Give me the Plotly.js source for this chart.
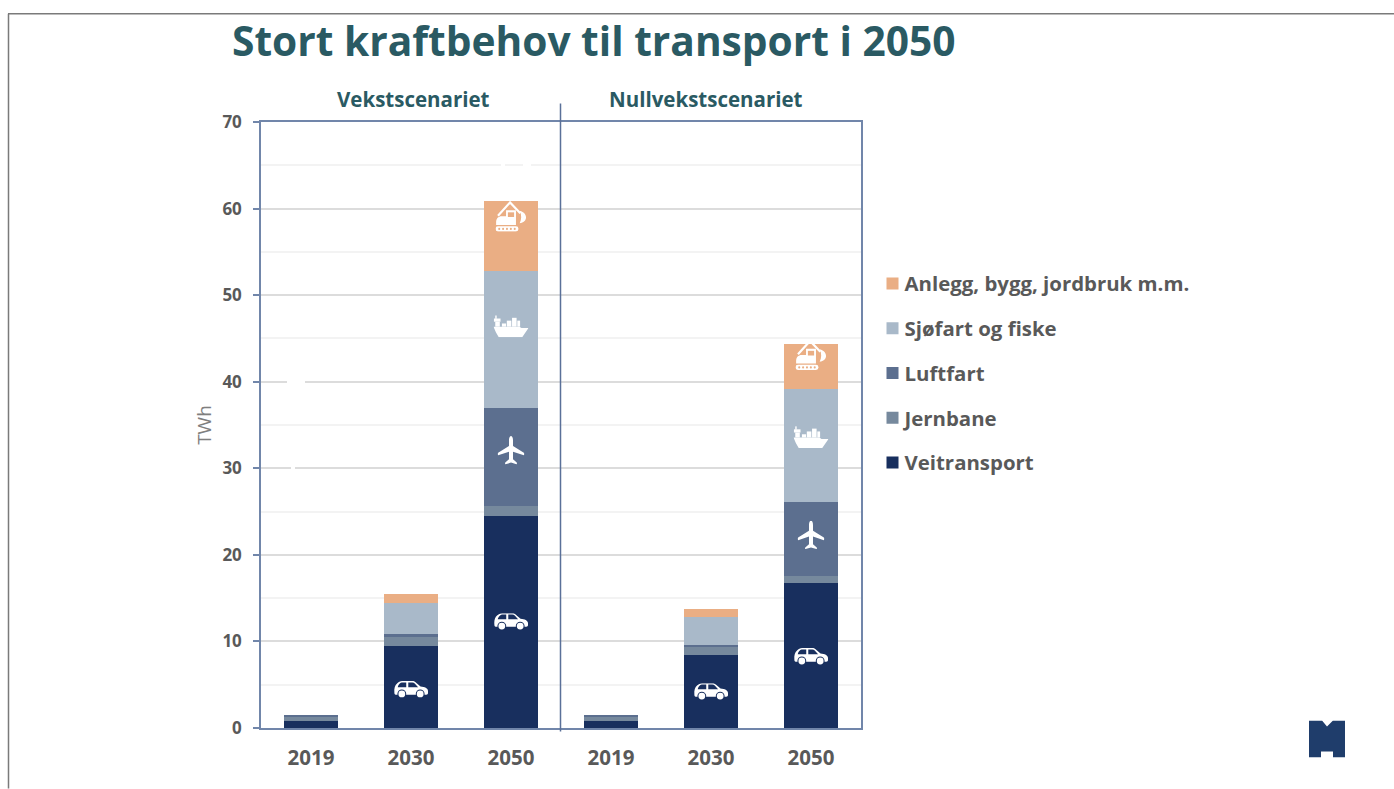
<!DOCTYPE html>
<html>
<head>
<meta charset="utf-8">
<script src="https://cdn.plot.ly/plotly-3.0.1.min.js"></script>
<style>html,body{margin:0;padding:0;background:#fff;overflow:hidden}#chart{width:1394px;height:789px}</style>
</head>
<body>
<div id="chart"></div>
<script>
// ---- Data (TWh) ----
const positions = [0, 1, 2, 3, 4, 5];
const yearLabels = ['2019', '2030', '2050', '2019', '2030', '2050'];
const veitransport = [0.8, 9.45, 24.5, 0.8, 8.4, 16.8];
const jernbane = [0.55, 1.05, 1.15, 0.55, 1.0, 0.8];
const luftfart = [0.05, 0.35, 11.35, 0.05, 0.2, 8.5];
const sjofart = [0, 3.55, 15.8, 0, 3.25, 13.05];
const anlegg = [0, 1.05, 8.1, 0, 0.95, 5.25];

const seriesNames = ['Veitransport', 'Jernbane', 'Luftfart', 'Sjøfart og fiske', 'Anlegg, bygg, jordbruk m.m.'];
const seriesValues = [veitransport, jernbane, luftfart, sjofart, anlegg];
const seriesColors = ['#182f5e', '#76899d', '#5c6f8f', '#a9b9c9', '#eaae84'];
const legendRanks = [5, 4, 3, 2, 1];

const yTicks = [0, 10, 20, 30, 40, 50, 60, 70];

// Icon anchor points: [category position, TWh]
const carSpots = [[1, 4.44], [2, 12.28], [4, 4.2], [5, 8.25]];
const planeSpots = [[2, 32.0], [5, 22.2]];
const shipSpots = [[2, 46.4], [5, 33.6]];
const diggerSpots = [[2, 59.1], [5, 43.1]];

// ---- Pixel helpers for furniture placed in the paper frame ----
const L = 261, R = 861, T = 121.5, B = 728.5;
const px = x => (x - L) / (R - L);
const py = y => (B - y) / (B - T);

const svgUri = s => 'data:image/svg+xml;charset=utf-8,' + encodeURIComponent(s);

const carSvg = (c => `<svg xmlns="http://www.w3.org/2000/svg" viewBox="0 0 100 50"><path fill="#fff" d="M1 32C0 22 3 12 9 7C13 3 18 0 24 0H54C59 0 62 2 65 5L78 16C90 17 100 21 100 29V35C100 38 98 40 95 40H5C2 40 1 37 1 32Z"/><path fill="${c}" d="M11 18C12 13 16 7 20 5C22 4 24 4 27 4H36V18ZM42 4H54C57 4 59 5 61 7L71 18H42Z"/><circle cx="23" cy="38" r="13" fill="${c}"/><circle cx="77" cy="38" r="13" fill="${c}"/><circle cx="23" cy="38" r="10" fill="#fff"/><circle cx="77" cy="38" r="10" fill="#fff"/></svg>`)('#182f5e');

const planeSvg = `<svg xmlns="http://www.w3.org/2000/svg" viewBox="0 0 80 90"><path fill="#fff" d="M40 0C44 0 46 6 46 14V30L78 50C80 52 80 56 78 58L46 47V70L57 80C58 82 58 85 56 85L40 80L24 85C22 85 22 82 23 80L34 70V47L2 58C0 56 0 52 2 50L34 30V14C34 6 36 0 40 0Z"/></svg>`;

const shipSvg = `<svg xmlns="http://www.w3.org/2000/svg" viewBox="0 0 100 62"><g fill="#fff"><path d="M0 32H74L80 36H100L82 62H15C9 53 4 43 0 32Z"/><rect x="5" y="0" width="4" height="10"/><rect x="1" y="9" width="19" height="9"/><rect x="5" y="18" width="13" height="14"/><rect x="24" y="23" width="12" height="9"/><rect x="38" y="15" width="13" height="17"/><rect x="53" y="7" width="13" height="25"/><rect x="68" y="15" width="8" height="17"/></g></svg>`;

const diggerSvg = `<svg xmlns="http://www.w3.org/2000/svg" viewBox="0 0 100 100"><path fill="none" stroke="#fff" stroke-width="7" d="M8 48L47 5L80 40"/><path fill="#fff" d="M78 32C92 36 101 46 98 58C96 67 88 71 78 72C84 60 85 46 78 32Z"/><path fill="#fff" d="M2 70C2 57 9 50 20 50H34V30H66V78H2Z"/><rect x="40" y="37" width="20" height="15" fill="#eaae84"/><rect x="0" y="82" width="74" height="17" rx="8" fill="#fff"/><g fill="#eaae84"><circle cx="12" cy="90.5" r="3.4"/><circle cx="24.5" cy="90.5" r="3.4"/><circle cx="37" cy="90.5" r="3.4"/><circle cx="49.5" cy="90.5" r="3.4"/><circle cx="62" cy="90.5" r="3.4"/></g></svg>`;

const logoSvg = `<svg xmlns="http://www.w3.org/2000/svg" viewBox="0 0 36 37"><path fill="#1f3d6b" d="M0 0H13L18 6L24 0H36V37H24V31H12V37H0Z"/></svg>`;

function iconImages(spots, svg, wPx, hPx) {
  return spots.map(([x, y]) => ({
    source: svgUri(svg), xref: 'x', yref: 'y', x, y,
    sizex: wPx / ((R - L) / 6), sizey: hPx / ((B - T) / 70),
    xanchor: 'center', yanchor: 'middle', sizing: 'stretch', layer: 'above'
  }));
}

const traces = seriesNames.map((name, i) => ({
  type: 'bar', name, x: positions, y: seriesValues[i],
  legendgroup: name, legendrank: legendRanks[i],
  marker: { color: seriesColors[i], line: { width: 0 } },
  hoverinfo: 'name+y'
}));

const axisColor = '#7186aa';
const labelFont = (size, color) => ({ family: '"Open Sans", sans-serif', size, color, weight: 700 });

// Small white breaks in the gridlines seen in the reference: [x0, x1, y] in pixels
const gridBreaks = [[287, 305, 382], [291, 295, 468], [501, 505, 165], [523, 531, 165]];

const layout = {
  width: 1394, height: 789,
  margin: { l: L, r: 1394 - R, t: T, b: 789 - B, pad: 0 },
  paper_bgcolor: '#fff', plot_bgcolor: '#fff',
  barmode: 'stack', bargap: 0.456,
  title: {
    text: 'Stort kraftbehov til transport i 2050',
    font: labelFont(40.7, '#2a5a63'),
    x: 232 / 1394, xanchor: 'left', xref: 'container',
    y: 1 - 41.6 / 789, yanchor: 'middle', yref: 'container'
  },
  xaxis: {
    range: [-0.5, 5.5], tickmode: 'array', tickvals: positions, ticktext: yearLabels,
    tickfont: labelFont(20.5, '#595959'), ticks: '', showgrid: false, zeroline: false,
    showline: true, linecolor: axisColor, linewidth: 1.5, mirror: true, ticklabelstandoff: 11
  },
  yaxis: {
    range: [0, 70], tickmode: 'array', tickvals: yTicks, ticktext: yTicks.map(String),
    tickfont: labelFont(17, '#595959'), ticks: 'outside', ticklen: 6, tickwidth: 1.5, tickcolor: axisColor,
    gridcolor: '#dcdcdc', gridwidth: 1.5, zeroline: false,
    minor: { dtick: 5, tick0: 0, showgrid: true, gridcolor: '#f3f3f3', gridwidth: 1.5, ticks: '' },
    showline: true, linecolor: axisColor, linewidth: 1.5, mirror: true, ticklabelstandoff: 8,
    title: { text: 'TWh', font: { family: '"Open Sans", sans-serif', size: 19, color: '#7f7f7f' }, standoff: 6 }
  },
  legend: {
    x: px(872.5), xanchor: 'left', y: py(263.5), yanchor: 'top', traceorder: 'grouped',
    font: labelFont(20.4, '#595959'), tracegroupgap: 15.2, itemclick: false, itemdoubleclick: false,
    bgcolor: 'rgba(0,0,0,0)'
  },
  annotations: [
    { text: 'Vekstscenariet', xref: 'paper', yref: 'paper', x: px(413.5), y: py(98), xanchor: 'center', yanchor: 'middle', showarrow: false, font: labelFont(20.5, '#2a5a63') },
    { text: 'Nullvekstscenariet', xref: 'paper', yref: 'paper', x: px(706), y: py(98), xanchor: 'center', yanchor: 'middle', showarrow: false, font: labelFont(20.5, '#2a5a63') }
  ],
  shapes: [
    ...gridBreaks.map(([a, b, y]) => ({ type: 'rect', xref: 'paper', yref: 'paper', x0: px(a), x1: px(b), y0: py(y - 1.5), y1: py(y + 1.5), fillcolor: '#fff', line: { width: 0 }, layer: 'above' })),
    { type: 'line', xref: 'paper', yref: 'paper', x0: px(560.5), x1: px(560.5), y0: py(103), y1: py(732), line: { color: '#5a7099', width: 1.5 }, layer: 'above' },
    { type: 'line', xref: 'paper', yref: 'paper', x0: px(8), x1: px(1394), y0: py(13), y1: py(13), line: { color: '#7a7a7a', width: 1.5 } },
    { type: 'line', xref: 'paper', yref: 'paper', x0: px(8.5), x1: px(8.5), y0: py(13), y1: py(789), line: { color: '#7a7a7a', width: 1.5 } }
  ],
  images: [
    ...iconImages(carSpots, carSvg, 34, 17),
    ...iconImages(planeSpots, planeSvg, 27, 30),
    ...iconImages(shipSpots, shipSvg, 35, 22),
    ...iconImages(diggerSpots, diggerSvg, 31, 31),
    { source: svgUri(logoSvg), xref: 'paper', yref: 'paper', x: px(1309), y: py(721), sizex: 36 / (R - L), sizey: 37 / (B - T), xanchor: 'left', yanchor: 'top', sizing: 'stretch', layer: 'above' }
  ]
};

Plotly.newPlot('chart', traces, layout, { displayModeBar: false, responsive: false }).then(() => {
  // Pull legend labels in next to their swatches, as in the reference.
  document.querySelectorAll('.legendtext').forEach(t => {
    t.setAttribute('x', parseFloat(t.getAttribute('x')) - 8);
  });
});
</script>
</body>
</html>
